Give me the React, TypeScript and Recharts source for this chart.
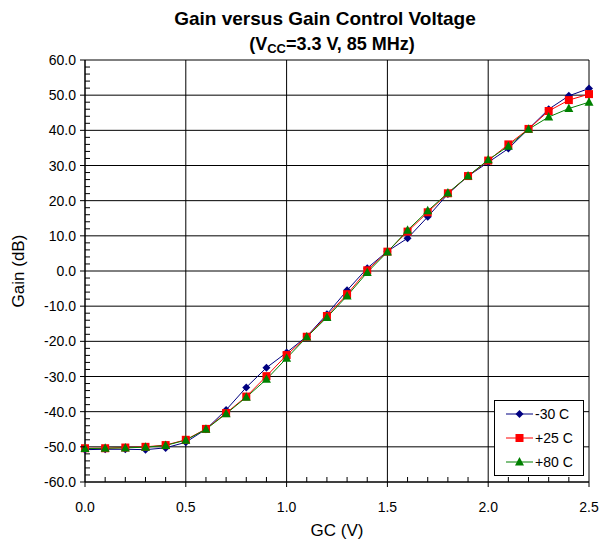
import React from 'react'
import { LineChart, Line, XAxis, YAxis, CartesianGrid, Legend } from 'recharts'

// GC voltage sweep (V)
const gcVolts = [0.0, 0.1, 0.2, 0.3, 0.4, 0.5, 0.6, 0.7, 0.8, 0.9, 1.0, 1.1, 1.2, 1.3, 1.4, 1.5, 1.6, 1.7, 1.8, 1.9, 2.0, 2.1, 2.2, 2.3, 2.4, 2.5]

// gain (dB) per temperature
const gainM30 = [-50.8, -50.7, -50.7, -50.8, -50.3, -48.7, -45.0, -39.5, -33.1, -27.5, -23.2, -18.6, -12.3, -5.5, 0.8, 5.6, 9.3, 15.4, 21.9, 27.0, 30.9, 34.8, 40.4, 46.0, 49.8, 51.9]
const gainP25 = [-50.4, -50.4, -50.2, -50.0, -49.5, -48.0, -44.9, -40.4, -35.7, -29.9, -23.9, -18.7, -12.8, -6.6, 0.2, 5.5, 11.2, 16.7, 22.1, 27.0, 31.4, 36.0, 40.4, 45.5, 48.6, 50.3]
const gainP80 = [-50.5, -50.4, -50.3, -50.1, -49.6, -48.1, -45.0, -40.6, -35.9, -30.8, -24.8, -18.8, -13.2, -7.1, -0.4, 5.4, 11.6, 17.1, 22.2, 27.0, 31.6, 35.5, 40.3, 43.8, 46.2, 48.0]

const xMajorTicks = [0.0, 0.5, 1.0, 1.5, 2.0, 2.5]
const yMajorTicks = [-60, -50, -40, -30, -20, -10, 0, 10, 20, 30, 40, 50, 60]

const FONT = '"Liberation Sans", Arial, sans-serif'
const NAVY = '#000080'
const RED = '#ff0000'
const GREEN = '#008000'

const chartData = gcVolts.map((gc, i) => ({
  gc,
  m30: gainM30[i],
  p25: gainP25[i],
  p80: gainP80[i],
}))

// minor ticks every 2 dB
const yTicks: number[] = []
for (let v = -60; v <= 60; v += 2) yTicks.push(v)

const isMajor = (v: number, majors: number[]) => majors.some((t) => Math.abs(t - v) < 1e-6)

function XTick({ x, y, payload }: any) {
  const v = payload.value
  if (!isMajor(v, xMajorTicks)) {
    return <line x1={x} x2={x} y1={y} y2={y - 5} stroke="#000" />
  }
  return (
    <g>
      <line x1={x} x2={x} y1={y} y2={y + 5} stroke="#000" />
      <text x={x} y={y + 30} textAnchor="middle" fontSize={14} fontFamily={FONT} fill="#000">
        {v.toFixed(1)}
      </text>
    </g>
  )
}

function YTick({ x, y, payload }: any) {
  const v = payload.value
  if (!isMajor(v, yMajorTicks)) {
    return <line x1={x} x2={x + 5} y1={y} y2={y} stroke="#000" />
  }
  return (
    <g>
      <line x1={x - 5} x2={x} y1={y} y2={y} stroke="#000" />
      <text x={x - 9} y={y + 5} textAnchor="end" fontSize={14} fontFamily={FONT} fill="#000">
        {v.toFixed(1)}
      </text>
    </g>
  )
}

function Marker({ kind, cx, cy, color }: { kind: string; cx: number; cy: number; color: string }) {
  if (kind === 'diamond') {
    return <polygon points={`${cx},${cy - 4} ${cx + 4},${cy} ${cx},${cy + 4} ${cx - 4},${cy}`} fill={color} />
  }
  if (kind === 'square') {
    return <rect x={cx - 4} y={cy - 4} width={8} height={8} fill={color} />
  }
  return <polygon points={`${cx},${cy - 5} ${cx + 4.5},${cy + 3.5} ${cx - 4.5},${cy + 3.5}`} fill={color} />
}

const series = [
  { key: 'm30', name: '-30 C', color: NAVY, kind: 'diamond' },
  { key: 'p25', name: '+25 C', color: RED, kind: 'square' },
  { key: 'p80', name: '+80 C', color: GREEN, kind: 'triangle' },
]

function LegendBox() {
  return (
    <div
      style={{
        width: 88,
        height: 74,
        border: '1px solid #000',
        background: '#fff',
        fontFamily: FONT,
        fontSize: 14,
        color: '#000',
        boxSizing: 'content-box',
      }}
    >
      {series.map((s, i) => (
        <div key={s.key} style={{ position: 'absolute', left: 12, top: 4 + i * 24, height: 20, display: 'flex', alignItems: 'center' }}>
          <svg width={27} height={12} style={{ display: 'block' }}>
            <line x1={0} x2={27} y1={6} y2={6} stroke={s.color} />
            <Marker kind={s.kind} cx={13.5} cy={6} color={s.color} />
          </svg>
          <span style={{ marginLeft: 2, whiteSpace: 'nowrap' }}>{s.name}</span>
        </div>
      ))}
    </div>
  )
}

export default function App() {
  return (
    <div style={{ position: 'absolute', left: 0, top: 0, width: 600, height: 542, background: '#fff' }}>
      <div
        style={{
          position: 'absolute',
          left: 73,
          width: 504,
          top: 9,
          textAlign: 'center',
          fontFamily: FONT,
          fontWeight: 'bold',
          fontSize: 19,
          lineHeight: '20px',
          color: '#000',
        }}
      >
        Gain versus Gain Control Voltage
      </div>
      <div
        style={{
          position: 'absolute',
          left: 80,
          width: 504,
          top: 35,
          textAlign: 'center',
          fontFamily: FONT,
          fontWeight: 'bold',
          fontSize: 18,
          lineHeight: '18px',
          color: '#000',
        }}
      >
        (V<sub style={{ fontSize: 13, verticalAlign: -3 }}>CC</sub>=3.3 V, 85 MHz)
      </div>
      <LineChart
        width={600}
        height={542}
        data={chartData}
        margin={{ top: 60, right: 11, bottom: 0, left: 0 }}
        style={{ position: 'absolute', left: 0, top: 0 }}
      >
        <CartesianGrid
          stroke="#000"
          verticalValues={xMajorTicks}
          horizontalValues={yMajorTicks}
        />
        <XAxis
          dataKey="gc"
          type="number"
          domain={[0, 2.5]}
          ticks={gcVolts}
          interval={0}
          height={60}
          tickSize={0}
          tickMargin={0}
          tickLine={false}
          axisLine={{ stroke: '#000' }}
          tick={<XTick />}
          label={{ value: 'GC (V)', position: 'insideBottom', offset: 6, fontSize: 17, fontFamily: FONT, fill: '#000' }}
        />
        <YAxis
          type="number"
          domain={[-60, 60]}
          ticks={yTicks}
          interval={0}
          width={85}
          tickSize={0}
          tickMargin={0}
          tickLine={false}
          axisLine={{ stroke: '#000' }}
          tick={<YTick />}
          label={{
            value: 'Gain (dB)',
            angle: -90,
            position: 'insideLeft',
            offset: 18,
            fontSize: 17,
            fontFamily: FONT,
            fill: '#000',
            style: { textAnchor: 'middle' },
          }}
        />
        {series.map((s) => (
          <Line
            key={s.key}
            dataKey={s.key}
            name={s.name}
            type="linear"
            stroke={s.color}
            strokeWidth={1}
            isAnimationActive={false}
            dot={(p: any) => <Marker key={`${s.key}-${p.index}`} kind={s.kind} cx={p.cx} cy={p.cy} color={s.color} />}
            activeDot={false}
          />
        ))}
        <Legend
          layout="vertical"
          align="center"
          verticalAlign="middle"
          content={() => <LegendBox />}
          wrapperStyle={{ position: 'absolute', left: 494, top: 400, width: 90, height: 76 }}
        />
      </LineChart>
    </div>
  )
}
